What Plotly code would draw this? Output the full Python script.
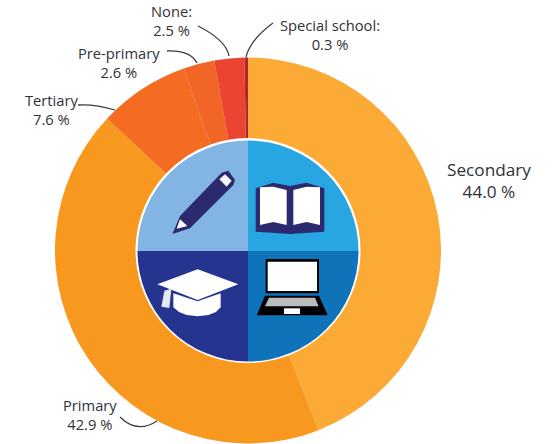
import plotly.graph_objects as go

# Data
categories = ["Secondary", "Primary", "Tertiary", "Pre-primary", "None", "Special school"]
shares = [44.0, 42.9, 7.6, 2.6, 2.5, 0.3]
slice_colors = ["#FBAA35", "#F8981F", "#F36C21", "#F16627", "#EB4532", "#B5252B"]
label_lines = ["Secondary<br>44.0 %", "Primary<br>42.9 %", "Tertiary<br>7.6 %",
               "Pre-primary<br>2.6 %", "None:<br>2.5 %", "Special school:<br>0.3 %"]
quadrants = ["Book", "Laptop", "Graduation", "Pencil"]
quadrant_sizes = [1, 1, 1, 1]
quadrant_colors = ["#27A6E1", "#0F73BA", "#25358F", "#82B4E4"]

W, H = 553, 444
NAVY, INK = "#2B2A6F", "#3A3F47"


def X(p):
    return p / W


def Y(p):
    return 1 - p / H


def zp(points, close=True):
    """Polygon path from zoom-crop pixels (3x crop starting at 130,130)."""
    parts = []
    for i, (x, y) in enumerate(points):
        parts.append(f"{'M' if i == 0 else 'L'}{X(130 + x / 3):.5f},{Y(130 + y / 3):.5f}")
    return " ".join(parts) + (" Z" if close else "")


def curve(x0, y0, cx, cy, x1, y1):
    return f"M{X(x0):.5f},{Y(y0):.5f} Q{X(cx):.5f},{Y(cy):.5f} {X(x1):.5f},{Y(y1):.5f}"


def fill(path, color):
    return dict(type="path", xref="paper", yref="paper", path=path,
                fillcolor=color, line=dict(width=0))


def lead(path):
    return dict(type="path", xref="paper", yref="paper", path=path,
                line=dict(color=INK, width=1.3))


def dom(cx, cy, r):
    return dict(x=[X(cx - r), X(cx + r)], y=[Y(cy + r), Y(cy - r)])


fig = go.Figure()
fig.add_trace(go.Pie(labels=categories, values=shares, sort=False, direction="clockwise",
                     rotation=0, hole=112.5 / 193, domain=dom(248, 250.5, 193),
                     marker=dict(colors=slice_colors, line=dict(width=0)),
                     textinfo="none", hoverinfo="label+percent", showlegend=False))
fig.add_trace(go.Pie(labels=quadrants, values=quadrant_sizes, sort=False, direction="clockwise",
                     rotation=0, domain=dom(248, 251, 110.5),
                     marker=dict(colors=quadrant_colors, line=dict(width=0)),
                     textinfo="none", hoverinfo="label", showlegend=False))

icons = [
    # pencil
    fill(zp([(127, 312), (150, 258), (275, 128), (295, 122), (315, 150), (310, 165), (180, 295)]), NAVY),
    fill(zp([(140, 296), (150, 268), (172, 288)]), "#FFFFFF"),
    fill(zp([(268, 148), (285, 133), (305, 152), (290, 170)]), "#F4F6FB"),
    # book
    fill(zp([(377, 175), (430, 158), (480, 168), (530, 158), (583, 175), (583, 305), (480, 312), (377, 305)]), NAVY),
    fill(zp([(390, 172), (430, 170), (470, 180), (470, 285), (430, 276), (390, 285)]), "#FFFFFF"),
    fill(zp([(490, 180), (530, 170), (570, 172), (570, 285), (530, 276), (490, 285)]), "#FFFFFF"),
    # graduation cap
    fill(zp([(130, 490), (203, 514), (272, 490), (272, 532), (258, 546), (235, 555), (203, 559),
             (170, 555), (147, 546), (130, 532)]), "#FFFFFF"),
    fill(zp([(82, 463), (203, 418), (325, 463), (203, 510)]), "#FFFFFF"),
    fill(zp([(94, 530), (103, 482), (124, 476), (118, 534)]), "#E6E8F2"),
    # laptop
    fill(zp([(407, 387), (567, 387), (567, 490), (407, 490)]), "#000000"),
    fill(zp([(413, 395), (561, 395), (561, 483), (413, 483)]), "#FFFFFF"),
    fill(zp([(405, 497), (567, 497), (593, 556), (380, 556)]), "#000000"),
    fill(zp([(417, 503), (555, 503), (566, 529), (405, 529)]), "#B9BBBD"),
    fill(zp([(462, 535), (510, 535), (510, 552), (462, 552)]), "#FFFFFF"),
]

leaders = [
    lead(curve(198, 26, 226, 40, 229, 56)),        # None
    lead(curve(273, 23, 250, 40, 246, 57)),        # Special school
    lead(curve(167, 51, 190, 50, 197, 63)),        # Pre-primary
    lead(curve(78, 105, 95, 104, 115, 110)),       # Tertiary
    lead(curve(120, 417, 137, 434, 157, 421)),     # Primary
]

font = "Open Sans"
notes = [
    (489, 180, label_lines[0], 17.2),
    (90, 414, label_lines[1], 14.7),
    (51, 109, label_lines[2], 14.7),
    (119, 62, label_lines[3], 14.7),
    (171, 21, label_lines[4], 14.7),
    (330, 35, label_lines[5], 14.7),
]
annotations = [
    dict(x=X(x), y=Y(y), xref="paper", yref="paper", text=t, showarrow=False,
         xanchor="center", yanchor="middle", align="center",
         font=dict(family=font, size=s, color="#2F3237"))
    for x, y, t, s in notes
]

fig.update_layout(width=W, height=H, margin=dict(l=0, r=0, t=0, b=0),
                  paper_bgcolor="#FFFFFF", plot_bgcolor="#FFFFFF",
                  showlegend=False, shapes=icons + leaders, annotations=annotations)
fig.write_html("out.html", config={"displayModeBar": False},
               post_script="document.body.style.margin='0';document.documentElement.style.overflow='hidden';")
